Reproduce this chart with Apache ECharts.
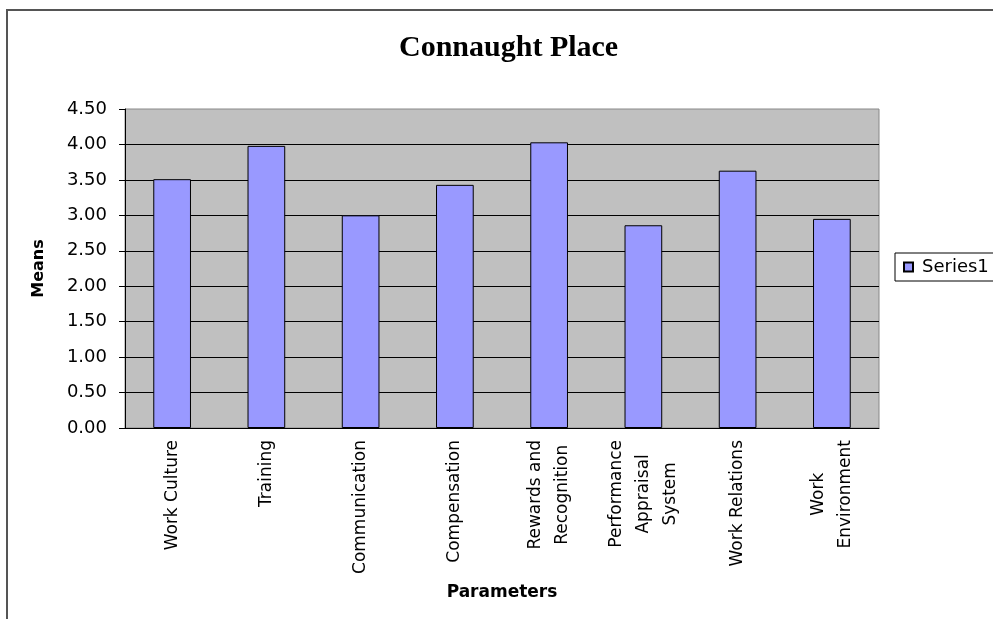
<!DOCTYPE html>
<html>
<head>
<meta charset="utf-8">
<script src="https://cdn.jsdelivr.net/npm/echarts@6/dist/echarts.min.js"></script>
<style>
  html, body { margin: 0; padding: 0; background: #fff; }
  #chart { width: 993px; height: 619px; }
</style>
</head>
<body>
<div id="chart"></div>
<script>
// 数据
const categories = [
  'Work Culture',
  'Training',
  'Communication',
  'Compensation',
  'Rewards and\nRecognition',
  'Performance\nAppraisal\nSystem',
  'Work Relations',
  'Work\nEnvironment'
];
const means = [3.51, 3.98, 3.00, 3.43, 4.03, 2.86, 3.63, 2.95];
const seriesName = 'Series1';

const chart = echarts.init(document.getElementById('chart'));
const sans = 'DejaVu Sans, Arial, sans-serif';

chart.setOption({
  animation: false,
  title: {
    text: 'Connaught Place',
    left: 394,
    top: 28,
    textStyle: { fontFamily: 'Liberation Serif, Times New Roman, serif', fontWeight: 'bold', fontSize: 30, color: '#000' }
  },
  legend: {
    data: [seriesName],
    left: 895,
    top: 253,
    icon: 'rect',
    itemWidth: 9,
    itemHeight: 9,
    padding: [5, 30, 5, 8],
    borderColor: '#000',
    borderWidth: 1,
    textStyle: { fontFamily: sans, fontSize: 18, color: '#000', padding: [0, 0, 0, 4] }
  },
  graphic: [{
    type: 'polyline',
    shape: { points: [[7, 619], [7, 10], [993, 10]] },
    style: { stroke: '#555', lineWidth: 2, fill: null }
  }],
  grid: {
    left: 125, right: 114, top: 109, bottom: 191,
    show: true,
    backgroundColor: '#C0C0C0',
    borderColor: '#888',
    borderWidth: 1
  },
  xAxis: {
    type: 'category',
    data: categories,
    name: 'Parameters',
    nameLocation: 'middle',
    nameGap: 156,
    nameTextStyle: { fontFamily: sans, fontWeight: 'bold', fontSize: 17, color: '#000' },
    axisLine: { lineStyle: { color: '#000' } },
    axisTick: { length: 6, lineStyle: { color: '#000' } },
    axisLabel: {
      interval: 0,
      rotate: 90,
      margin: 12,
      formatter: v => v.split('\n').map(s => '{c|' + s + '}').join('\n'),
      rich: { c: { align: 'center', fontFamily: sans, fontSize: 17, lineHeight: 27, color: '#000' } }
    }
  },
  yAxis: {
    type: 'value',
    min: 0,
    max: 4.5,
    interval: 0.5,
    name: 'Means',
    nameLocation: 'middle',
    nameGap: 78,
    nameTextStyle: { fontFamily: sans, fontWeight: 'bold', fontSize: 16, color: '#000' },
    axisLine: { show: true, lineStyle: { color: '#000' } },
    axisTick: { show: true, length: 6, lineStyle: { color: '#000' } },
    axisLabel: {
      margin: 18,
      formatter: v => v.toFixed(2),
      fontFamily: sans, fontSize: 18, color: '#000'
    },
    splitLine: { show: true, showMaxLine: false, lineStyle: { color: '#000', width: 1 } }
  },
  series: [{
    name: seriesName,
    type: 'bar',
    data: means,
    barWidth: '40%',
    itemStyle: { color: '#9999FF', borderColor: '#000', borderWidth: 1 }
  }]
});
</script>
</body>
</html>
